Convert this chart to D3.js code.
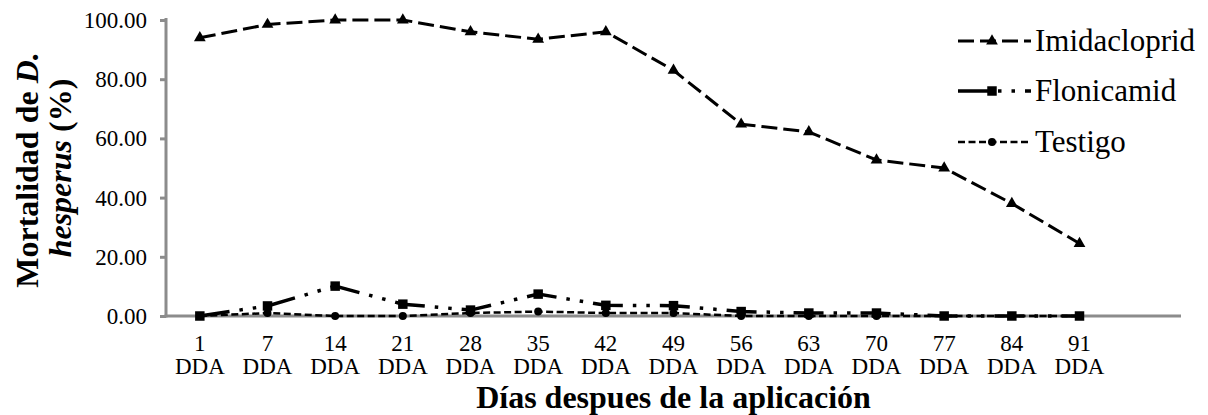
<!DOCTYPE html>
<html><head><meta charset="utf-8">
<script src="https://cdn.jsdelivr.net/npm/d3@7"></script>
<style>body{margin:0;background:#fff}svg{display:block;font-family:"Liberation Serif","Times New Roman",serif}svg text{font-family:"Liberation Serif","Times New Roman",serif !important}</style>
</head><body><svg id="c" width="1208" height="415"></svg>
<script>
const categories = ["1","7","14","21","28","35","42","49","56","63","70","77","84","91"];
const imidacloprid = [94, 98.5, 100, 100, 96, 93.5, 96, 83, 64.8, 62.2, 52.7, 50, 38, 24.5];
const flonicamid = [0, 3.4, 10.1, 4, 2, 7.4, 3.6, 3.5, 1.5, 1, 1, 0, 0, 0];
const testigo = [0, 1, 0, 0, 1, 1.5, 1, 1, 0, 0, 0, 0, 0, 0];
const yTicks = [0, 20, 40, 60, 80, 100];
const seriesNames = ["Imidacloprid", "Flonicamid", "Testigo"];

(function(){
const svg = d3.select("#c");
const mLeft = 166, mRight = 1181, mTop = 20, mBottom = 316;
const slots = categories.concat([""]);
const x = d3.scaleBand().domain(slots.map((d,i)=>i)).range([mLeft, mRight]);
const y = d3.scaleLinear().domain([0, 100]).range([mBottom, mTop]);
const axisColor = "#8c8c8c";
const serif = "Liberation Serif";

// y axis
const ya = svg.append("g").attr("transform", `translate(${mLeft},0)`)
  .call(d3.axisLeft(y).tickValues(yTicks).tickSize(6).tickPadding(13).tickFormat(d3.format(".2f")));
ya.attr("font-family", serif);
ya.select(".domain").attr("stroke", axisColor).attr("stroke-width", 3).attr("d", `M0,${mBottom+1.5}V${mTop-2}`);
ya.selectAll(".tick line").attr("stroke", axisColor).attr("stroke-width", 3);
ya.selectAll(".tick text").attr("font-size", 23).attr("fill", "#000").attr("dy", "0.33em");

// x axis
const xa = svg.append("g").attr("transform", `translate(0,${mBottom})`)
  .call(d3.axisBottom(x).tickSize(0).tickFormat(""));
xa.select(".domain").attr("stroke", axisColor).attr("stroke-width", 3).attr("d", `M${mLeft-1.5},0H${mRight}`);
const xl = svg.append("g");
categories.forEach((c,i)=>{
  const cx = x(i) + x.bandwidth()/2;
  xl.append("text").attr("x", cx).attr("y", 351).attr("text-anchor","middle").attr("font-size",23).text(c);
  xl.append("text").attr("x", cx).attr("y", 374).attr("text-anchor","middle").attr("font-size",23).text("DDA");
});

// titles
svg.append("text").attr("x", (mLeft+mRight)/2).attr("y", 408).attr("text-anchor","middle")
  .attr("font-size", 32).attr("font-weight","bold").text("Días despues de la aplicación");
const yt = svg.append("text").attr("transform","translate(0,170) rotate(-90)").attr("text-anchor","middle")
  .attr("font-size", 32).attr("font-weight","bold");
yt.append("tspan").attr("x",0).attr("y",38).text("Mortalidad de ");
yt.append("tspan").attr("font-style","italic").text("D.");
const yt2 = svg.append("text").attr("transform","translate(0,168) rotate(-90)").attr("text-anchor","middle")
  .attr("font-size", 32).attr("font-weight","bold");
yt2.append("tspan").attr("x",0).attr("y",71).attr("font-style","italic").text("hesperus");
yt2.append("tspan").text(" (%)");

const styles = [
  {data: imidacloprid, dash: "16,6", w: 3, marker: d3.symbolTriangle, msize: 60},
  {data: flonicamid, dash: "30,10,3.5,10,3.5,10", w: 3.5, marker: d3.symbolSquare, msize: 90},
  {data: testigo, dash: "7,3.5", w: 2.5, marker: d3.symbolCircle, msize: 50}
];
const line = d3.line().x((d,i)=>x(i)+x.bandwidth()/2).y(d=>y(d));
styles.forEach(s=>{
  svg.append("path").datum(s.data).attr("d", line).attr("fill","none").attr("stroke","#000")
    .attr("stroke-width", s.w).attr("stroke-dasharray", s.dash);
  svg.append("g").selectAll("path").data(s.data).join("path")
    .attr("transform",(d,i)=>`translate(${x(i)+x.bandwidth()/2},${y(d)})`)
    .attr("d", d3.symbol().type(s.marker).size(s.msize)).attr("fill","#000");
});

// legend
const legY = [41, 91, 142];
styles.forEach((s,i)=>{
  const g = svg.append("g").attr("transform", `translate(0,${legY[i]})`);
  g.append("path").attr("d","M958,0H1031").attr("stroke","#000").attr("stroke-width",s.w).attr("stroke-dasharray",s.dash).attr("fill","none");
  g.append("path").attr("transform","translate(992,0)").attr("d", d3.symbol().type(s.marker).size(s.msize)).attr("fill","#000");
  g.append("text").attr("x",1035).attr("y",10).attr("font-size",31).text(seriesNames[i]);
});
})();
</script></body></html>
